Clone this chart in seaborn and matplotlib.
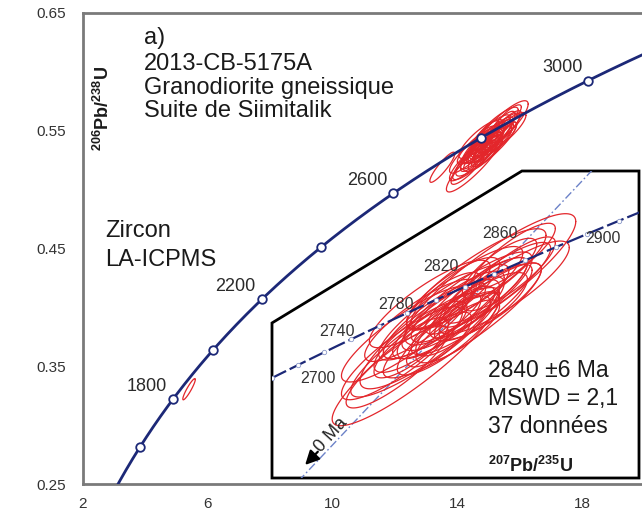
import numpy as np
import pandas as pd
import matplotlib
matplotlib.use("Agg")
import matplotlib.pyplot as plt
import seaborn as sns
from matplotlib.patches import Polygon

# ---------------- data ----------------
LAMBDA_238 = 1.55125e-4   # per Ma
LAMBDA_235 = 9.8485e-4    # per Ma

main_marker_ages = [1600, 1800, 2000, 2200, 2400, 2600, 2800, 3000]
main_label_ages = [1800, 2200, 2600, 3000]
inset_marker_ages = [2660, 2680, 2700, 2720, 2740, 2760, 2780, 2800, 2820,
                     2840, 2860, 2880, 2900, 2920, 2940, 2960]
inset_label_ages = [2700, 2740, 2780, 2820, 2860, 2900]
upper_intercept_age = 2840

# accepted analyses (207Pb/235U, 206Pb/238U, 2-sigma errors, rho)
ell_x = [14.55, 15.35, 14.70, 15.10, 14.90, 14.40, 15.00, 14.80, 15.20, 14.60,
         15.40, 14.95, 15.05, 14.75, 15.15, 14.50, 15.30, 14.85, 14.65, 15.25,
         14.90, 15.55, 14.35, 15.10, 14.70, 15.00, 15.45, 14.80, 15.20, 14.60,
         15.35, 14.95, 14.45, 15.60, 15.05, 14.85, 15.50]
ell_y = [0.5225, 0.5515, 0.5315, 0.5435, 0.5375, 0.5245, 0.5415, 0.5345, 0.5455, 0.5305,
         0.5495, 0.5345, 0.5395, 0.5365, 0.5405, 0.5265, 0.5475, 0.5395, 0.5285, 0.5415,
         0.5315, 0.5535, 0.5195, 0.5485, 0.5425, 0.5325, 0.5555, 0.5295, 0.5515, 0.5365,
         0.5435, 0.5465, 0.5315, 0.5600, 0.5365, 0.5435, 0.5485]
ell_sx = [0.90, 0.92, 0.75, 0.70, 0.60, 0.65, 0.50, 0.45, 0.55, 0.50,
          0.60, 0.40, 0.35, 0.55, 0.65, 0.40, 0.45, 0.70, 0.80, 0.50,
          0.55, 0.50, 0.55, 0.60, 0.65, 0.45, 0.40, 0.35, 0.75, 0.60,
          0.55, 0.50, 0.70, 0.45, 0.85, 0.40, 0.70]
ell_sy = [0.0245, 0.0240, 0.0200, 0.0180, 0.0150, 0.0170, 0.0130, 0.0120, 0.0140, 0.0130,
          0.0155, 0.0110, 0.0095, 0.0140, 0.0165, 0.0110, 0.0120, 0.0175, 0.0200, 0.0125,
          0.0150, 0.0135, 0.0150, 0.0150, 0.0160, 0.0115, 0.0110, 0.0100, 0.0185, 0.0150,
          0.0140, 0.0130, 0.0175, 0.0120, 0.0210, 0.0105, 0.0170]
ell_rho = [0.90, 0.88, 0.86, 0.86, 0.84, 0.87, 0.82, 0.80, 0.85, 0.82,
           0.86, 0.78, 0.76, 0.84, 0.87, 0.80, 0.82, 0.87, 0.89, 0.80,
           0.85, 0.84, 0.86, 0.84, 0.85, 0.80, 0.80, 0.77, 0.87, 0.85,
           0.84, 0.82, 0.87, 0.84, 0.89, 0.78, 0.86]

# analyses not used in the age (main plot only)
excl_x = [13.52, 5.40]
excl_y = [0.5190, 0.3305]
excl_sx = [0.40, 0.20]
excl_sy = [0.0128, 0.0090]
excl_rho = [0.90, 0.92]

# ---------------- helpers ----------------
def concordia(age_ma):
    a = np.asarray(age_ma, dtype=float)
    return np.exp(LAMBDA_235 * a) - 1.0, np.exp(LAMBDA_238 * a) - 1.0


def ellipse_xy(x, y, sx, sy, rho, n=120):
    t = np.linspace(0, 2 * np.pi, n)
    ex = x + sx * np.cos(t)
    ey = y + sy * (rho * np.cos(t) + np.sqrt(1 - rho ** 2) * np.sin(t))
    return ex, ey


W, H = 642, 514
def fx(px):
    return px / W
def fy(py):
    return 1 - py / H

sns.set_theme(style="white")
plt.rcParams["font.family"] = ["Liberation Sans", "DejaVu Sans"]
plt.rcParams["mathtext.fontset"] = "custom"
plt.rcParams["mathtext.rm"] = "Liberation Sans"
plt.rcParams["mathtext.bf"] = "Liberation Sans:bold"

NAVY = "#1c2877"
RED = "#e3262b"
TXT = "#1a1a1a"
GREY = "#7a7a7a"

fig = plt.figure(figsize=(W / 100, H / 100), dpi=100)
ax = fig.add_axes([fx(83), fy(484), (642 - 83) / W, (484 - 13) / H])
ax.set_xlim(2, 19.92)
ax.set_ylim(0.25, 0.65)

# main concordia
ages_curve = np.linspace(1300, 3300, 500)
cx, cy = concordia(ages_curve)
curve_df = pd.DataFrame({"x": cx, "y": cy})
sns.lineplot(data=curve_df, x="x", y="y", sort=False, estimator=None,
             color=NAVY, lw=2.0, ax=ax, zorder=3)
mx, my = concordia(main_marker_ages)
sns.scatterplot(x=mx, y=my, s=38, color="white", edgecolor=NAVY,
                linewidth=1.3, ax=ax, zorder=4)
for a in main_label_ages:
    x0, y0 = concordia(a)
    ax.annotate(str(a), xy=(x0, y0), xytext=(-26, 13), textcoords="offset pixels",
                ha="center", va="center", fontsize=13, color="#2a2a2a", zorder=5)

# main ellipses
for x, y, sx, sy, r in zip(ell_x + excl_x, ell_y + excl_y, ell_sx + excl_sx,
                           ell_sy + excl_sy, ell_rho + excl_rho):
    ex, ey = ellipse_xy(x, y, sx, sy, r)
    ax.plot(ex, ey, color=RED, lw=0.9, zorder=2)

# axes styling
for side in ["left", "bottom", "top"]:
    ax.spines[side].set_visible(True)
    ax.spines[side].set_color(GREY)
    ax.spines[side].set_linewidth(2)
ax.spines["right"].set_visible(False)
ax.set_xticks(np.arange(2, 20, 2))
ax.set_xticklabels([str(v) if v in (2, 6, 10, 14, 18) else "" for v in range(2, 20, 2)])
yt = np.round(np.arange(0.25, 0.651, 0.05), 2)
ax.set_yticks(yt)
ax.set_yticklabels([f"{v:.2f}" if i % 2 == 0 else "" for i, v in enumerate(yt)])
ax.tick_params(direction="in", length=3, width=1, color=GREY, labelsize=11,
               labelcolor="#333333")
ax.tick_params(axis="y", pad=12)
ax.tick_params(axis="x", pad=9)
ax.set_xlabel("")
ax.set_ylabel("")

# ---------------- inset ----------------
axi = fig.add_axes([fx(272), fy(478), (639 - 272) / W, (478 - 171) / H])
axi.set_xlim(13.003, 16.950)
axi.set_ylim(0.4789, 0.5911)
axi.axis("off")
axi.patch.set_alpha(0)
poly = Polygon([(0, 0), (0, 0.505), (0.681, 1), (1, 1), (1, 0)], closed=True,
               transform=axi.transAxes, facecolor="white", edgecolor="black",
               lw=2, zorder=0, clip_on=False)
axi.add_patch(poly)

# discordia through origin and upper intercept
ux, uy = concordia(upper_intercept_age)
dx = np.array([0.0, 20.0])
dl, = axi.plot(dx, dx * uy / ux, color="#6c82c8", lw=1.0,
               dashes=(6, 2, 1.2, 2), zorder=1)
dl.set_clip_path(poly)

ages_in = np.linspace(2600, 3000, 300)
ix, iy = concordia(ages_in)
cl, = axi.plot(ix, iy, color=NAVY, lw=1.6, dashes=(8, 1.8), zorder=3)
cl.set_clip_path(poly)
imx, imy = concordia(inset_marker_ages)
sc = axi.scatter(imx, imy, s=10, facecolor="white", edgecolor="#8a98c8",
                 linewidth=0.6, zorder=4)
sc.set_clip_path(poly)

label_offsets = {2700: (20, -13), 2740: (-14, 8), 2780: (-11, 9),
                 2820: (-24, 20), 2860: (-25, 27), 2900: (16, -5)}
for a in inset_label_ages:
    x0, y0 = concordia(a)
    axi.annotate(str(a), xy=(x0, y0), xytext=label_offsets[a],
                 textcoords="offset pixels", ha="center", va="center",
                 fontsize=11.5, color="#333333", zorder=5)

for x, y, sx, sy, r in zip(ell_x, ell_y, ell_sx, ell_sy, ell_rho):
    ex, ey = ellipse_xy(x, y, sx, sy, r)
    ln, = axi.plot(ex, ey, color=RED, lw=0.9, zorder=2)

# arrow towards 0 Ma
axi.annotate("", xy=(0.085, 0.036), xytext=(0.130, 0.092), xycoords="axes fraction",
             arrowprops=dict(arrowstyle="-|>,head_length=0.7,head_width=0.35",
                             color="black", lw=1.6), zorder=5)
axi.text(0.162, 0.140, "0 Ma", transform=axi.transAxes, rotation=48,
         ha="center", va="center", fontsize=13, color="#222222")

# ---------------- texts ----------------
for txt, yb in [("a)", 44), ("2013-CB-5175A", 70), ("Granodiorite gneissique", 94),
                ("Suite de Siimitalik", 117)]:
    fig.text(fx(144), fy(yb), txt, fontsize=17, color=TXT, va="baseline", ha="left")
for txt, yb in [("Zircon", 237), ("LA-ICPMS", 266)]:
    fig.text(fx(105), fy(yb), txt, fontsize=17, color=TXT, va="baseline", ha="left")
for txt, yb in [("2840 \u00b16 Ma", 377), ("MSWD = 2,1", 405), ("37 donn\u00e9es", 433)]:
    fig.text(fx(488), fy(yb), txt, fontsize=16.5, color=TXT, va="baseline", ha="left")

fig.text(fx(103), fy(108), r"$\mathbf{{}^{206}Pb/{}^{238}U}$", rotation=90,
         ha="center", va="center", fontsize=13, color=TXT)
fig.text(fx(488), fy(472), r"$\mathbf{{}^{207}Pb/{}^{235}U}$",
         ha="left", va="baseline", fontsize=13, color=TXT)

fig.savefig("out.png", dpi=100)
